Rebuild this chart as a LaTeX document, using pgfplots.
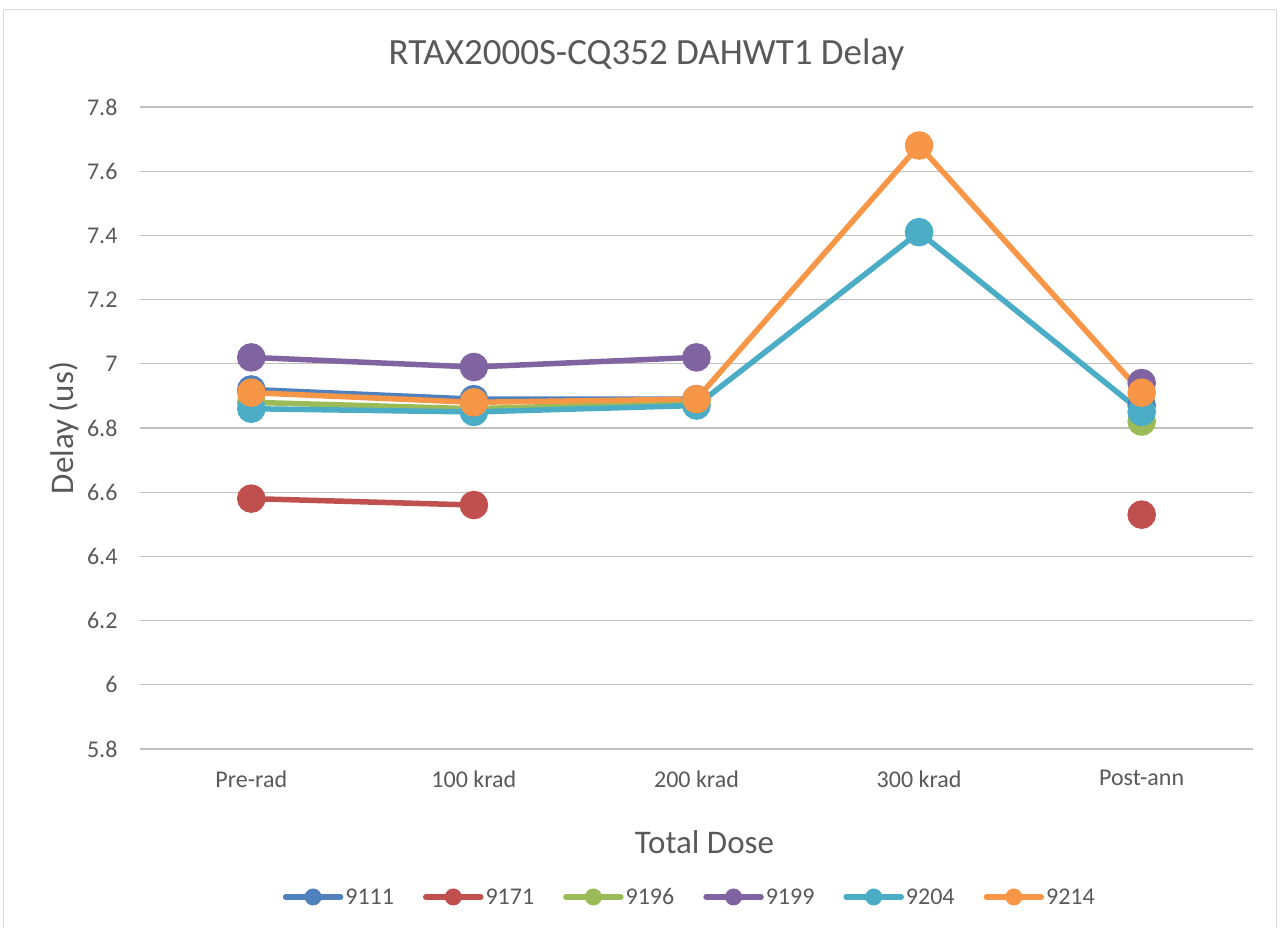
\documentclass[border=0pt]{standalone}
\usepackage{pgfplots}
\pgfplotsset{compat=1.18}
\usepackage{fontspec}
\setmainfont{Carlito}
\definecolor{txt}{HTML}{595959}
\definecolor{grid}{HTML}{D9D9D9}
\definecolor{c1}{HTML}{4F81BD}
\definecolor{c2}{HTML}{C0504D}
\definecolor{c3}{HTML}{9BBB59}
\definecolor{c4}{HTML}{8064A2}
\definecolor{c5}{HTML}{4BACC6}
\definecolor{c6}{HTML}{F79646}
\begin{document}
\begin{tikzpicture}
\useasboundingbox (0,0) rectangle (1283pt,928pt);
\draw[grid, line width=1pt] (3pt,-5pt) rectangle (1276pt,918pt);
\begin{axis}[
  at={(140pt,179pt)}, anchor=south west,
  scale only axis, width=1113pt, height=642pt,
  xmin=-0.5, xmax=4.5, ymin=5.8, ymax=7.8,
  xtick={0,1,2,3,4},
  xticklabels={Pre-rad,100 krad,200 krad,300 krad,Post-ann},
  ytick={5.8,6,6.2,6.4,6.6,6.8,7,7.2,7.4,7.6,7.8},
  yticklabels={5.8,6,6.2,6.4,6.6,6.8,7,7.2,7.4,7.6,7.8},
  xmajorgrids=false, ymajorgrids=true,
  major grid style={grid, line width=1.2pt},
  axis line style={draw=none},
  tick style={draw=none},
  major tick length=0pt,
  tick label style={font=\fontsize{24}{28}\selectfont, text=txt},
  xticklabel style={yshift=-18pt},
  yticklabel style={xshift=-19pt},
  title={RTAX2000S-CQ352 DAHWT1 Delay},
  title style={font=\fontsize{37}{42}\selectfont, text=txt, at={(0.5,1)}, yshift=27pt, xshift=-50pt},
  xlabel={Total Dose},
  ylabel={Delay (us)},
  label style={font=\fontsize{33}{38}\selectfont, text=txt},
  xlabel style={yshift=-36pt, xshift=8pt},
  ylabel style={yshift=1pt},
  unbounded coords=jump,
  every axis plot/.append style={line width=5.5pt, mark=*, mark size=11.5pt},
  legend columns=6,
  legend style={at={(0.494,-0.2305)}, anchor=center, draw=none, fill=none,
    font=\fontsize{24}{28}\selectfont, text=txt,
    /tikz/every even column/.append style={column sep=27pt}},
  legend image code/.code={
    \draw[#1, mark=none, line width=5.5pt, line cap=round] (0pt,0pt) -- (55pt,0pt);
    \fill[#1, draw=none] (27.5pt,0pt) circle (8.5pt);
  },
]
\addplot[color=c1] coordinates {(0,6.92) (1,6.89) (2,6.89) (3,nan) (4,6.87)};
\addlegendentry{9111}
\addplot[color=c2] coordinates {(0,6.58) (1,6.56) (2,nan) (3,nan) (4,6.53)};
\addlegendentry{9171}
\addplot[color=c3] coordinates {(0,6.88) (1,6.86) (2,6.88) (3,nan) (4,6.82)};
\addlegendentry{9196}
\addplot[color=c4] coordinates {(0,7.02) (1,6.99) (2,7.02) (3,nan) (4,6.94)};
\addlegendentry{9199}
\addplot[color=c5] coordinates {(0,6.86) (1,6.85) (2,6.87) (3,7.41) (4,6.85)};
\addlegendentry{9204}
\addplot[color=c6] coordinates {(0,6.91) (1,6.88) (2,6.89) (3,7.68) (4,6.91)};
\addlegendentry{9214}
\end{axis}
\end{tikzpicture}
\end{document}
